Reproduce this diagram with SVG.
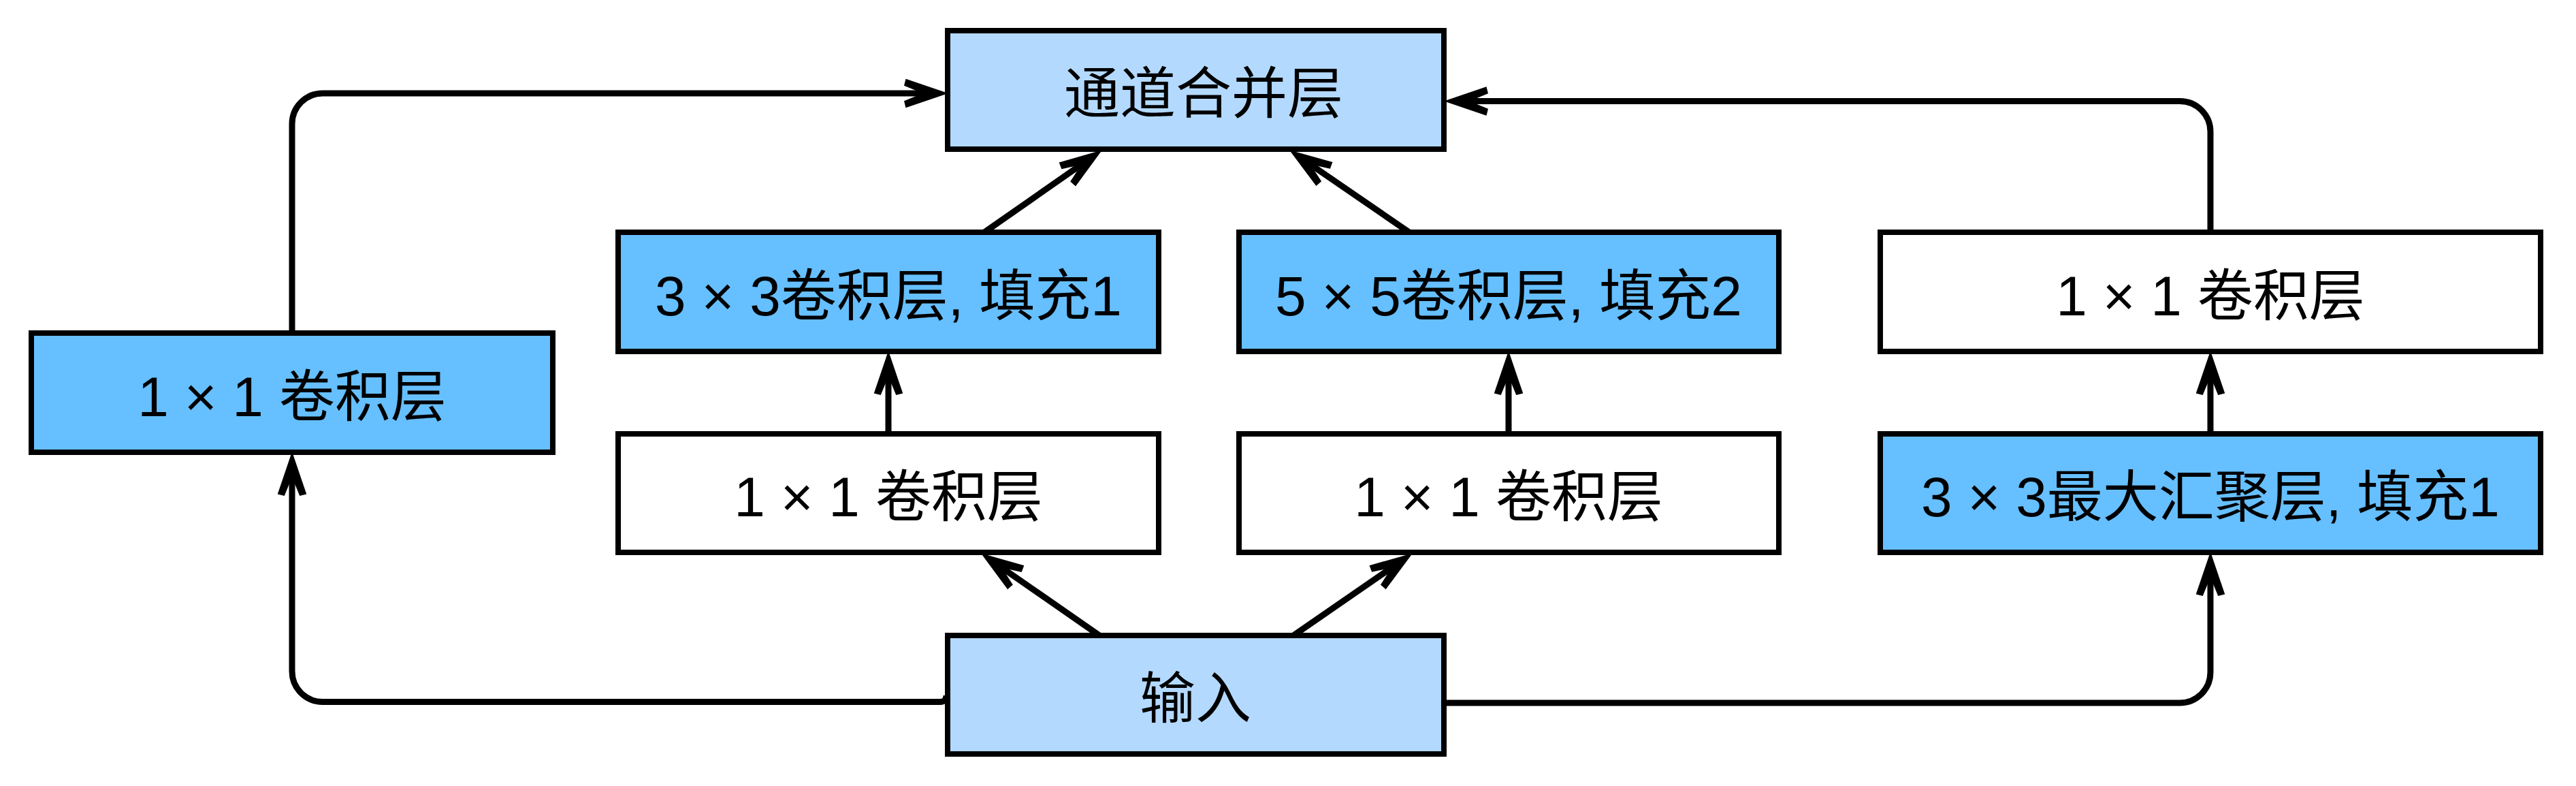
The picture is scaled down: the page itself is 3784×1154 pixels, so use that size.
<svg xmlns="http://www.w3.org/2000/svg" width="3784" height="1154" viewBox="0 0 3784 1154">
  <style>
    .box { stroke: #000; stroke-width: 8; }
    .light { fill: #b3d9ff; }
    .dark { fill: #66bfff; }
    .white { fill: #ffffff; }
    text { font-family: "Liberation Sans", "Noto Sans CJK SC", sans-serif; font-size: 82px; text-anchor: middle; fill: #000; }
    .conn { fill: none; stroke: #000; stroke-width: 9; marker-end: url(#ah); }
  </style>
  <defs>
    <marker id="ah" markerUnits="userSpaceOnUse" orient="auto" markerWidth="100" markerHeight="100" viewBox="-60 -30 80 60" refX="-20" refY="0" overflow="visible">
      <path d="M0,0 L-50,-17 L-52,-9 L-30,0 L-52,9 L-50,17 Z" fill="#000" stroke="none"/>
    </marker>
  </defs>
  <rect width="3784" height="1154" fill="#ffffff"/>

  <g id="connectors">
    <path class="conn" d="M429,489 V182 A45,45 0 0 1 474,137 H1368"/>
    <path class="conn" d="M1390,1021 Q1390,1030.5 1381,1030.5 H474 A45,45 0 0 1 429,985.5 V688"/>
    <path class="conn" d="M2125,1032 H3202 A45,45 0 0 0 3247,987 V835"/>
    <path class="conn" d="M3247,341 V193.5 A45,45 0 0 0 3202,148.5 H2146"/>
    <path class="conn" d="M1305,637 V540"/>
    <path class="conn" d="M2216,637 V540"/>
    <path class="conn" d="M3247,637 V540"/>
    <path class="conn" d="M1446,341 L1598.6,234.5"/>
    <path class="conn" d="M2070,341 L1914.5,234.3"/>
    <path class="conn" d="M1615,933 L1461.4,826.4"/>
    <path class="conn" d="M1900,933 L2054.5,826.4"/>
  </g>

  <g id="merge">
    <rect class="box light" x="1392" y="45" width="729" height="174"/>
    <text x="1768" y="166">通道合并层</text>
  </g>
  <g id="input">
    <rect class="box light" x="1392" y="933" width="729" height="174"/>
    <text x="1756" y="1054">输入</text>
  </g>
  <g id="conv1x1-left">
    <rect class="box dark" x="46" y="489" width="766" height="175"/>
    <text x="429" y="611">1 × 1 卷积层</text>
  </g>
  <g id="conv3x3">
    <rect class="box dark" x="908" y="341" width="794" height="175"/>
    <text x="1305" y="463">3 × 3卷积层, 填充1</text>
  </g>
  <g id="conv5x5">
    <rect class="box dark" x="1820" y="341" width="793" height="175"/>
    <text x="2216" y="463">5 × 5卷积层, 填充2</text>
  </g>
  <g id="conv1x1-topright">
    <rect class="box white" x="2762" y="341" width="970" height="175"/>
    <text x="3247" y="463">1 × 1 卷积层</text>
  </g>
  <g id="conv1x1-low-a">
    <rect class="box white" x="908" y="637" width="794" height="174"/>
    <text x="1305" y="758">1 × 1 卷积层</text>
  </g>
  <g id="conv1x1-low-b">
    <rect class="box white" x="1820" y="637" width="793" height="174"/>
    <text x="2216" y="758">1 × 1 卷积层</text>
  </g>
  <g id="maxpool">
    <rect class="box dark" x="2762" y="637" width="970" height="174"/>
    <text x="3247" y="758">3 × 3最大汇聚层, 填充1</text>
  </g>
</svg>
